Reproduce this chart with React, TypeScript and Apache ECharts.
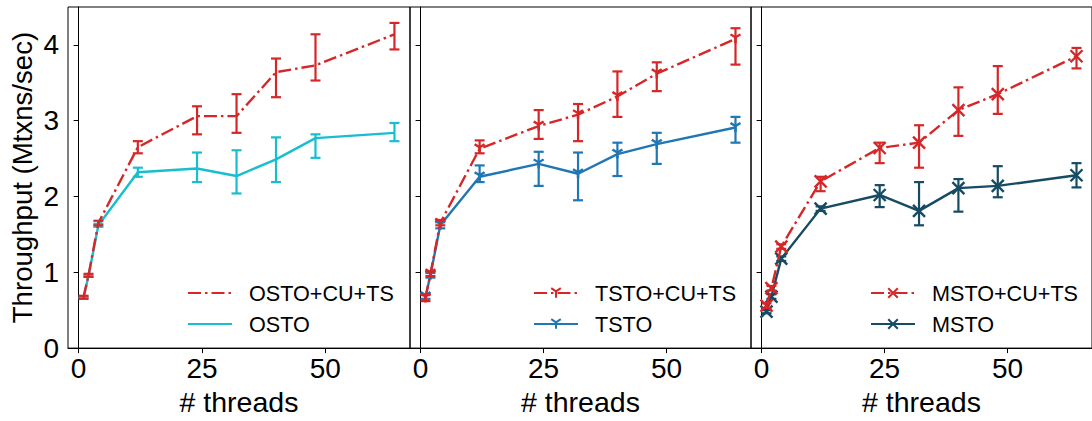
import React, { useEffect, useRef } from "react";
import * as echarts from "echarts";

const threads = [1, 2, 4, 12, 24, 32, 40, 48, 64];

const ostoCuMean = [0.67, 0.96, 1.65, 2.65, 3.06, 3.06, 3.64, 3.73, 4.14];
const ostoCuLow = [0.65, 0.94, 1.62, 2.57, 2.82, 2.84, 3.31, 3.53, 3.94];
const ostoCuHigh = [0.69, 0.98, 1.68, 2.73, 3.19, 3.35, 3.82, 4.14, 4.29];

const ostoMean = [0.67, 0.95, 1.62, 2.32, 2.37, 2.27, 2.49, 2.77, 2.84];
const ostoLow = [0.66, 0.94, 1.6, 2.26, 2.19, 2.04, 2.19, 2.51, 2.73];
const ostoHigh = [0.68, 0.96, 1.64, 2.38, 2.58, 2.61, 2.78, 2.82, 2.97];

const tstoCuMean = [0.66, 0.98, 1.65, 2.63, 2.93, 3.08, 3.32, 3.62, 4.08];
const tstoCuLow = [0.62, 0.95, 1.62, 2.57, 2.76, 2.73, 3.05, 3.39, 3.74];
const tstoCuHigh = [0.7, 1.01, 1.69, 2.74, 3.14, 3.22, 3.65, 3.77, 4.22];

const tstoMean = [0.68, 0.96, 1.62, 2.26, 2.43, 2.3, 2.56, 2.69, 2.91];
const tstoLow = [0.65, 0.93, 1.58, 2.19, 2.14, 1.95, 2.27, 2.43, 2.71];
const tstoHigh = [0.71, 0.99, 1.66, 2.41, 2.59, 2.58, 2.71, 2.84, 3.05];

const mstoCuMean = [0.56, 0.79, 1.34, 2.2, 2.64, 2.71, 3.14, 3.35, 3.85];
const mstoCuLow = [0.53, 0.76, 1.31, 2.07, 2.44, 2.38, 2.8, 3.09, 3.69];
const mstoCuHigh = [0.59, 0.82, 1.37, 2.26, 2.71, 2.94, 3.44, 3.72, 3.96];

const mstoMean = [0.48, 0.68, 1.18, 1.84, 2.02, 1.81, 2.11, 2.14, 2.28];
const mstoLow = [0.46, 0.65, 1.15, 1.81, 1.86, 1.62, 1.8, 1.99, 2.12];
const mstoHigh = [0.5, 0.71, 1.21, 1.87, 2.15, 2.19, 2.23, 2.4, 2.44];

const xTicks = [0, 25, 50];
const yTicks = [0, 1, 2, 3, 4];

const RED = "#d62728";
const CYAN = "#17becf";
const BLUE = "#1f77b4";
const DARK = "#154c63";
const FONT = "'Liberation Sans', Arial, sans-serif";
const DASHDOT = [13, 4, 2.5, 4];

const TRI = "path://M0,0 L0,10 M0,0 L-8.66,-5 M0,0 L8.66,-5";
const XMARK = "path://M0,0 L10,10 M10,0 L0,10";

function lineSeries(name: string, idx: number, mean: number[], color: string, dashed: boolean, symbol: string, size: number[] | number, z: number) {
  return {
    type: "line",
    name,
    xAxisIndex: idx,
    yAxisIndex: idx,
    data: threads.map((t, i) => [t, mean[i]]),
    symbol,
    symbolSize: size,
    showSymbol: symbol !== "none",
    itemStyle: { color, borderColor: color, borderWidth: 2.4 },
    lineStyle: { color, width: 2.4, type: dashed ? DASHDOT : "solid" },
    z,
  };
}

function errSeries(idx: number, low: number[], high: number[], color: string, z: number) {
  return {
    type: "custom",
    name: "err" + idx + color,
    xAxisIndex: idx,
    yAxisIndex: idx,
    data: threads.map((t, i) => [t, low[i], high[i]]),
    encode: { x: 0, y: [1, 2] },
    z,
    silent: true,
    renderItem: (params: any, api: any) => {
      const x = api.value(0);
      const p1 = api.coord([x, api.value(1)]);
      const p2 = api.coord([x, api.value(2)]);
      const cap = 5;
      const style = { stroke: color, lineWidth: 2.2 };
      return {
        type: "group",
        children: [
          { type: "line", shape: { x1: p1[0], y1: p1[1], x2: p2[0], y2: p2[1] }, style },
          { type: "line", shape: { x1: p1[0] - cap, y1: p1[1], x2: p1[0] + cap, y2: p1[1] }, style },
          { type: "line", shape: { x1: p2[0] - cap, y1: p2[1], x2: p2[0] + cap, y2: p2[1] }, style },
        ],
      };
    },
  };
}

export default function App() {
  const ref = useRef<HTMLDivElement>(null);
  useEffect(() => {
    document.body.style.margin = "0";
    const chart = echarts.init(ref.current!, null, { renderer: "svg" });
    const lefts = [68, 410, 751];
    const widths = [342, 341, 341];
    const grids = lefts.map((l, i) => ({
      left: l,
      width: widths[i],
      top: 7,
      height: 347,
      show: true,
      borderColor: "#000",
      borderWidth: 1,
      containLabel: false,
    }));
    const xAxes = lefts.map((_, i) => ({
      type: "value",
      gridIndex: i,
      min: -2.15,
      max: 67.15,
      name: "# threads",
      nameLocation: "middle",
      nameGap: 33,
      nameTextStyle: { fontSize: 28.5, color: "#000", fontFamily: FONT },
      axisLine: { show: true, lineStyle: { color: "#000", width: 1 } },
      axisTick: { show: true, customValues: xTicks, length: 5, lineStyle: { color: "#000" } },
      axisLabel: { customValues: xTicks, fontSize: 28, color: "#000", fontFamily: FONT, margin: 6 },
      splitLine: { show: false },
    }));
    const yAxes = lefts.map((_, i) => ({
      type: "value",
      gridIndex: i,
      min: 0,
      max: 4.5,
      name: i === 0 ? "Throughput (Mtxns/sec)" : "",
      nameLocation: "middle",
      nameGap: 32,
      nameTextStyle: { fontSize: 27.6, color: "#000", fontFamily: FONT },
      axisLine: { show: true, lineStyle: { color: "#000", width: 1 } },
      axisTick: { show: true, customValues: yTicks, length: 5, lineStyle: { color: "#000" } },
      axisLabel: { show: i === 0, customValues: yTicks, fontSize: 28, color: "#000", fontFamily: FONT, margin: 9 },
      splitLine: { show: false },
    }));
    const legendBase = {
      orient: "vertical",
      padding: 0,
      itemWidth: 44,
      itemHeight: 12,
      itemGap: 9,
      textStyle: { fontSize: 21.6, color: "#000", fontFamily: FONT, padding: [0, 0, 0, 12] },
      backgroundColor: "transparent",
    };
    const noMark = { opacity: 0 };
    chart.setOption({
      animation: false,
      grid: grids,
      xAxis: xAxes,
      yAxis: yAxes,
      legend: [
        {
          ...legendBase,
          left: 187,
          top: 282,
          data: [
            { name: "OSTO+CU+TS", itemStyle: noMark },
            { name: "OSTO", itemStyle: noMark },
          ],
        },
        { ...legendBase, left: 533, top: 282, data: ["TSTO+CU+TS", "TSTO"] },
        { ...legendBase, left: 870, top: 282, data: ["MSTO+CU+TS", "MSTO"] },
      ],
      series: [
        lineSeries("OSTO", 0, ostoMean, CYAN, false, "none", 0, 2),
        errSeries(0, ostoLow, ostoHigh, CYAN, 3),
        lineSeries("OSTO+CU+TS", 0, ostoCuMean, RED, true, "none", 0, 4),
        errSeries(0, ostoCuLow, ostoCuHigh, RED, 5),

        lineSeries("TSTO", 1, tstoMean, BLUE, false, TRI, [10, 9], 2),
        errSeries(1, tstoLow, tstoHigh, BLUE, 3),
        lineSeries("TSTO+CU+TS", 1, tstoCuMean, RED, true, TRI, [10, 9], 4),
        errSeries(1, tstoCuLow, tstoCuHigh, RED, 5),

        lineSeries("MSTO", 2, mstoMean, DARK, false, XMARK, 12, 2),
        errSeries(2, mstoLow, mstoHigh, DARK, 3),
        lineSeries("MSTO+CU+TS", 2, mstoCuMean, RED, true, XMARK, 12, 4),
        errSeries(2, mstoCuLow, mstoCuHigh, RED, 5),
      ],
    });
    return () => chart.dispose();
  }, []);
  return <div ref={ref} style={{ width: 1092, height: 421 }} />;
}
